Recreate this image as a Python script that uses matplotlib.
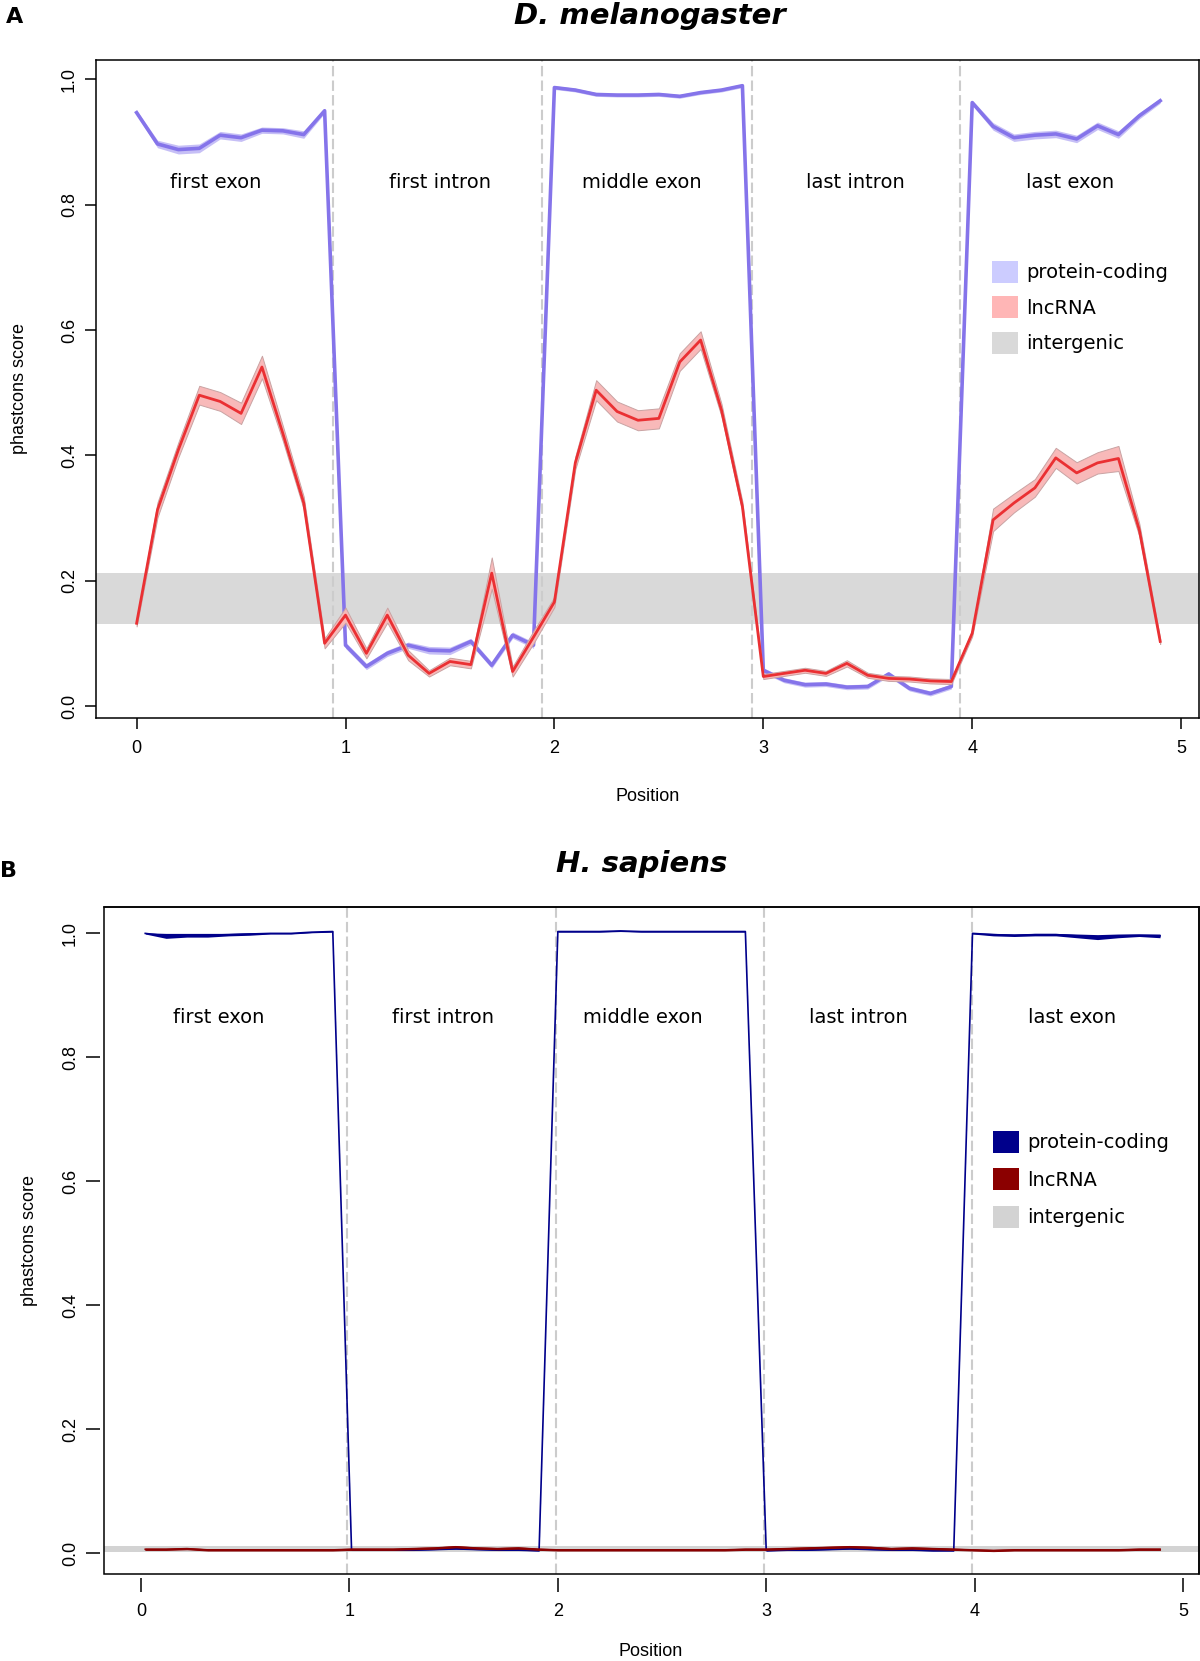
import numpy as np
import matplotlib
matplotlib.use('Agg')
import matplotlib.pyplot as plt
from matplotlib.patches import Patch, Rectangle

# region names shared by both panels
segments = ['first exon', 'first intron', 'middle exon', 'last intron', 'last exon']
legend_names = ['protein-coding', 'lncRNA', 'intergenic']

# ---- panel A: D. melanogaster ----
pos_a = np.round(np.arange(50) * 0.1, 1)
pc_a = [0.947, 0.897, 0.888, 0.890, 0.911, 0.907, 0.919, 0.918, 0.912, 0.950,
        0.097, 0.063, 0.084, 0.097, 0.089, 0.088, 0.103, 0.065, 0.113, 0.097,
        0.987, 0.983, 0.976, 0.975, 0.975, 0.976, 0.973, 0.979, 0.983, 0.990,
        0.057, 0.041, 0.034, 0.035, 0.030, 0.031, 0.051, 0.028, 0.020, 0.031,
        0.963, 0.925, 0.907, 0.911, 0.913, 0.905, 0.926, 0.912, 0.942, 0.966]
pc_a_ci = [0.004, 0.006, 0.007, 0.007, 0.006, 0.006, 0.005, 0.005, 0.006, 0.004,
           0.005, 0.005, 0.005, 0.005, 0.006, 0.006, 0.005, 0.005, 0.005, 0.005,
           0.003, 0.003, 0.003, 0.003, 0.003, 0.003, 0.003, 0.003, 0.003, 0.003,
           0.004, 0.004, 0.004, 0.004, 0.004, 0.004, 0.004, 0.004, 0.004, 0.004,
           0.004, 0.006, 0.006, 0.006, 0.006, 0.006, 0.006, 0.006, 0.005, 0.004]
lnc_a = [0.132, 0.313, 0.409, 0.496, 0.486, 0.467, 0.541, 0.435, 0.324, 0.100,
         0.145, 0.084, 0.145, 0.081, 0.052, 0.071, 0.066, 0.212, 0.055, 0.110,
         0.166, 0.388, 0.504, 0.470, 0.456, 0.459, 0.549, 0.584, 0.472, 0.318,
         0.047, 0.052, 0.057, 0.052, 0.068, 0.049, 0.044, 0.043, 0.040, 0.039,
         0.116, 0.297, 0.324, 0.348, 0.396, 0.372, 0.388, 0.395, 0.281, 0.103]
lnc_a_ci = [0.005, 0.012, 0.012, 0.015, 0.015, 0.017, 0.018, 0.012, 0.010, 0.008,
            0.012, 0.008, 0.012, 0.008, 0.005, 0.006, 0.006, 0.025, 0.008, 0.010,
            0.008, 0.010, 0.016, 0.016, 0.016, 0.016, 0.014, 0.014, 0.010, 0.008,
            0.004, 0.004, 0.004, 0.004, 0.005, 0.004, 0.004, 0.004, 0.004, 0.004,
            0.005, 0.018, 0.015, 0.014, 0.016, 0.017, 0.017, 0.020, 0.010, 0.004]
bounds_a = [0.94, 1.94, 2.945, 3.94]
label_x_a = [0.38, 1.45, 2.42, 3.44, 4.47]
label_y_a = 0.836
intergenic_a = [0.131, 0.213]

# ---- panel B: H. sapiens ----
seg_start_b = [0.02, 1.01, 2.0, 3.0, 3.99]
pc_b = [1.000, 0.996, 0.997, 0.997, 0.998, 0.999, 1.000, 1.000, 1.002, 1.003,
        0.005, 0.005, 0.005, 0.005, 0.006, 0.007, 0.006, 0.005, 0.005, 0.004,
        1.003, 1.003, 1.003, 1.004, 1.003, 1.003, 1.003, 1.003, 1.003, 1.003,
        0.004, 0.005, 0.005, 0.006, 0.007, 0.006, 0.005, 0.005, 0.004, 0.004,
        1.000, 0.998, 0.997, 0.998, 0.998, 0.996, 0.994, 0.996, 0.997, 0.996]
pc_b_ci = [0.001, 0.004, 0.003, 0.003, 0.002, 0.002, 0.001, 0.001, 0.001, 0.001,
           0.001, 0.001, 0.001, 0.001, 0.001, 0.001, 0.001, 0.001, 0.001, 0.001,
           0.001, 0.001, 0.001, 0.001, 0.001, 0.001, 0.001, 0.001, 0.001, 0.001,
           0.001, 0.001, 0.001, 0.001, 0.001, 0.001, 0.001, 0.001, 0.001, 0.001,
           0.001, 0.002, 0.002, 0.002, 0.002, 0.003, 0.004, 0.003, 0.002, 0.003]
lnc_b = [0.006, 0.006, 0.007, 0.005, 0.005, 0.005, 0.005, 0.005, 0.005, 0.005,
         0.006, 0.006, 0.006, 0.007, 0.008, 0.010, 0.008, 0.007, 0.008, 0.006,
         0.005, 0.005, 0.005, 0.005, 0.005, 0.005, 0.005, 0.005, 0.005, 0.006,
         0.006, 0.007, 0.008, 0.009, 0.010, 0.009, 0.007, 0.008, 0.007, 0.006,
         0.005, 0.004, 0.005, 0.005, 0.005, 0.005, 0.005, 0.005, 0.006, 0.006]
lnc_b_ci = [0.001] * 50
bounds_b = [0.99, 1.99, 2.99, 3.99]
label_x_b = [0.37, 1.45, 2.41, 3.44, 4.47]
label_y_b = 0.865
intergenic_b = [0.002, 0.012]

yticks = [0.0, 0.2, 0.4, 0.6, 0.8, 1.0]
xticks = [0, 1, 2, 3, 4, 5]

W, H = 1200, 1661
SANS = 'Liberation Sans'
DEJAVU = 'DejaVu Sans'


def fx(px):
  return px / W


def fy(py):
  return 1 - py / H


def make_axes(fig, box, xlim, ylim, offset, ticklen):
  left, top, right, bottom = box
  ax = fig.add_axes([fx(left), fy(bottom), fx(right - left), (bottom - top) / H])
  for s in ax.spines.values():
    s.set_linewidth(1.1)
  if offset:
    # ticks sit a little away from the box, as in R's axis()
    for side in ['left', 'bottom']:
      ax.spines[side].set_position(('outward', offset))
      ax.spines[side].set_color('none')
    ax.add_patch(Rectangle((0, 0), 1, 1, transform=ax.transAxes, fill=False,
                           lw=1.1, ec='black', clip_on=False, zorder=10))
  ax.set_xlim(*xlim)
  ax.set_ylim(*ylim)
  ax.set_xticks(xticks)
  ax.set_xticklabels([str(t) for t in xticks], fontfamily=SANS, fontsize=13)
  ax.set_yticks(yticks)
  ax.set_yticklabels(['%.1f' % t for t in yticks], fontfamily=SANS, fontsize=13,
                     rotation=90, va='center')
  ax.tick_params(direction='out', length=ticklen, width=1.1, color='black')
  ax.tick_params(axis='x', pad=8)
  ax.tick_params(axis='y', pad=5)
  return ax


def draw_panel(ax, pos, pc, pc_ci, lnc, lnc_ci, bounds, band, band_col,
               pc_line, pc_fill, lnc_line, lnc_fill, lnc_edge, lw, pc_lw,
               label_x, label_y):
  ax.axhspan(band[0], band[1], color=band_col, lw=0, zorder=1)
  for b in bounds:
    ax.axvline(b, color='#cccccc', lw=1.5, ls=(0, (5, 2)), zorder=2)
  pc = np.array(pc)
  pc_ci = np.array(pc_ci)
  lnc = np.array(lnc)
  lnc_ci = np.array(lnc_ci)
  ax.fill_between(pos, pc - pc_ci, pc + pc_ci, color=pc_fill, lw=0, zorder=3)
  ax.plot(pos, pc, color=pc_line, lw=pc_lw, zorder=4, solid_joinstyle='round')
  ax.fill_between(pos, lnc - lnc_ci, lnc + lnc_ci, facecolor=lnc_fill,
                  edgecolor=lnc_edge, lw=0.7, zorder=5)
  ax.plot(pos, lnc, color=lnc_line, lw=lw, zorder=6)
  for name, x in zip(segments, label_x):
    ax.text(x, label_y, name, ha='center', va='center', fontsize=14,
            fontfamily=DEJAVU)


def add_legend(ax, fig, colors, top_left, spacing):
  handles = [Patch(facecolor=c, edgecolor='none') for c in colors]
  leg = ax.legend(handles, legend_names, loc='upper left',
                  bbox_to_anchor=top_left, bbox_transform=fig.transFigure,
                  frameon=False, borderpad=0, borderaxespad=0,
                  handlelength=1.35, handleheight=1.35, handletextpad=0.4,
                  labelspacing=spacing, prop={'family': DEJAVU, 'size': 14})
  return leg


def main():
  fig = plt.figure(figsize=(12, 16.61), dpi=100)

  # panel A
  ax_a = make_axes(fig, (96, 60, 1199, 718), (-0.1944, 5.0857), (-0.0192, 1.031),
                   0, 8)
  draw_panel(ax_a, pos_a, pc_a, pc_a_ci, lnc_a, lnc_a_ci, bounds_a, intergenic_a,
             '#d9d9d9', '#8574ea', '#c6bff6', '#ea3033', '#f8b9b9', '#c9a3a3',
             2.0, 2.6, label_x_a, label_y_a)
  add_legend(ax_a, fig, ['#ccccff', '#ffb6b6', '#d9d9d9'], (fx(992), fy(261)), 0.7)

  # panel B
  pos_b = np.concatenate([np.round(s + np.arange(10) * 0.1, 2) for s in seg_start_b])
  ax_b = make_axes(fig, (104, 907, 1199, 1574), (-0.178, 5.077), (-0.0339, 1.0426),
                   3, 10)
  draw_panel(ax_b, pos_b, pc_b, pc_b_ci, lnc_b, lnc_b_ci, bounds_b, intergenic_b,
             '#d3d3d3', '#00008b', '#00008b', '#8b0000', '#8b0000', '#8b0000',
             1.2, 1.2, label_x_b, label_y_b)
  add_legend(ax_b, fig, ['#00008b', '#8b0000', '#d3d3d3'], (fx(993), fy(1131)), 0.8)

  # titles, panel letters, axis labels
  fig.text(fx(650), fy(16), 'D. melanogaster', ha='center', va='center',
           fontsize=21, fontweight='bold', fontstyle='italic', fontfamily=DEJAVU)
  fig.text(fx(642), fy(864), 'H. sapiens', ha='center', va='center',
           fontsize=21, fontweight='bold', fontstyle='italic', fontfamily=DEJAVU)
  fig.text(fx(6), fy(17), 'A', ha='left', va='center', fontsize=16,
           fontweight='bold', fontfamily=DEJAVU)
  fig.text(fx(0), fy(871), 'B', ha='left', va='center', fontsize=16,
           fontweight='bold', fontfamily=DEJAVU)
  fig.text(fx(648), fy(796), 'Position', ha='center', va='center', fontsize=13,
           fontfamily=SANS)
  fig.text(fx(651), fy(1652), 'Position', ha='center', va='center', fontsize=13,
           fontfamily=SANS)
  fig.text(fx(20), fy(389), 'phastcons score', ha='center', va='center',
           rotation=90, fontsize=13, fontfamily=SANS)
  fig.text(fx(30), fy(1240), 'phastcons score', ha='center', va='center',
           rotation=90, fontsize=13, fontfamily=SANS)

  fig.savefig('out.png', dpi=100)


if __name__ == "__main__":
  main()
